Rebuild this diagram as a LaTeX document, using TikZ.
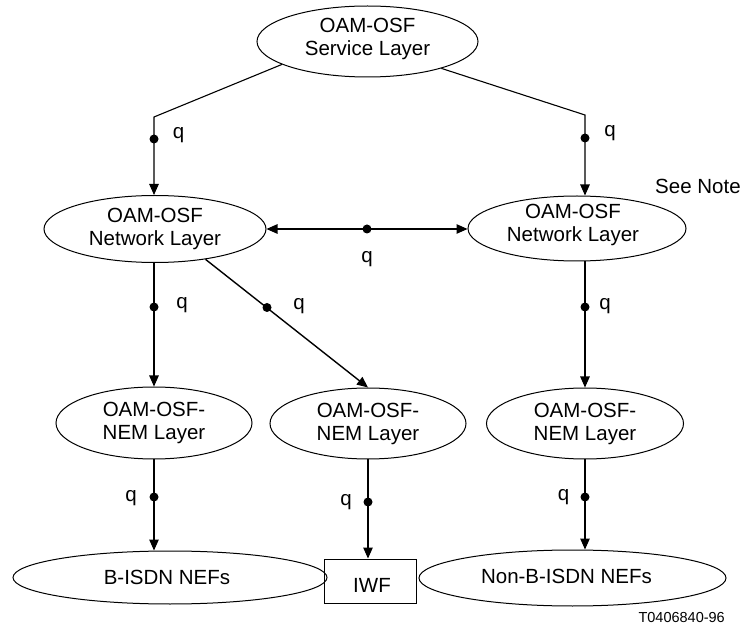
\documentclass[tikz,border=0pt]{standalone}
\usepackage{fontspec}
\setmainfont{Liberation Sans}
\usetikzlibrary{shapes.geometric,arrows.meta,calc}
\begin{document}
\begin{tikzpicture}[x=1pt,y=-1pt,
  font=\fontsize{20.5}{23}\selectfont,
  ell/.style={draw, ellipse, line width=1pt, inner sep=0pt},
  box/.style={draw, rectangle, line width=1pt, inner sep=0pt},
  lbl/.style={align=center, inner sep=0pt},
  conn/.style={line width=1.1pt, -{Triangle[length=11pt,width=9.5pt]}},
  dconn/.style={line width=1.1pt, {Triangle[length=11pt,width=9.5pt]}-{Triangle[length=11pt,width=9.5pt]}},
  qdot/.style={circle, fill, inner sep=0pt, minimum size=9pt},
  ql/.style={inner sep=0pt},
]
\useasboundingbox (0,0) rectangle (745,628);

% nodes
\node[ell, minimum width=221pt, minimum height=71pt,
      label={[lbl,yshift=3pt]center:OAM-OSF\\Service Layer}] (top) at (367.5,41.5) {};
\node[ell, minimum width=222pt, minimum height=67pt,
      label={[lbl]center:OAM-OSF\\Network Layer}] (netL) at (155,229) {};
\node[ell, minimum width=218pt, minimum height=65pt,
      label={[lbl,xshift=-4pt,yshift=4pt]center:OAM-OSF\\Network Layer}] (netR) at (577,228.5) {};
\node[ell, minimum width=196pt, minimum height=72pt,
      label={[lbl]center:OAM-OSF-\\NEM Layer}] (nemL) at (154,423) {};
\node[ell, minimum width=196pt, minimum height=71pt,
      label={[lbl]center:OAM-OSF-\\NEM Layer}] (nemM) at (368,423.5) {};
\node[ell, minimum width=197pt, minimum height=71pt,
      label={[lbl]center:OAM-OSF-\\NEM Layer}] (nemR) at (585,423.5) {};
\node[ell, minimum width=314pt, minimum height=53pt,
      label={[lbl,xshift=-3pt]center:B-ISDN NEFs}] (bisdn) at (170,577.5) {};
\node[box, minimum width=92pt, minimum height=44pt,
      label={[lbl,xshift=2pt,yshift=-4pt]center:IWF}] (iwf) at (370,581) {};
\node[ell, minimum width=307pt, minimum height=56pt,
      label={[lbl,xshift=-6pt,yshift=2pt]center:Non-B-ISDN NEFs}] (nonb) at (572.5,578) {};

\node[anchor=base west, inner sep=0pt] (note) at (655,194) {See Note};
\node[anchor=base east, inner sep=0pt, font=\fontsize{14.5}{17}\selectfont] (tag) at (725,622) {T0406840-96};

% bend points
\coordinate (cL) at (154,117);
\coordinate (cR) at (585,115);

% connectors
\draw[conn] (top.195) -- (cL) -- (cL |- netL.north);
\draw[conn] (top.340) -- (cR) -- (cR |- netR.north);
\draw[dconn] (netL.east) -- (netL.east -| netR.west);
\draw[conn] (netL.south -| nemL.north) -- (nemL.north);
\draw[conn, line width=1.4pt] (netL.329) -- (nemM.north);
\draw[conn] (netR.south -| nemR.north) -- (nemR.north);
\draw[conn] (nemL.south) -- (nemL.south |- bisdn.north);
\draw[conn] (nemM.south) -- (nemM.south |- iwf.north);
\draw[conn] (nemR.south) -- (nemR.south |- nonb.north);

% q reference points
\node[qdot] (d1) at (154,139) {};
\node[qdot] (d2) at (585,138) {};
\node[qdot] (d3) at (367,229) {};
\node[qdot] (d4) at (154,307) {};
\node[qdot] (d5) at (267,307.5) {};
\node[qdot] (d6) at (585,307) {};
\node[qdot] (d7) at (154,497) {};
\node[qdot] (d8) at (368,502) {};
\node[qdot] (d9) at (585,497) {};

% q labels
\node[ql] (q1) at (178.5,135) {q};
\node[ql] (q2) at (610,133) {q};
\node[ql] (q3) at (367,259) {q};
\node[ql] (q4) at (182,305.5) {q};
\node[ql] (q5) at (299,306) {q};
\node[ql] (q6) at (605,306) {q};
\node[ql] (q7) at (131,498) {q};
\node[ql] (q8) at (346,502) {q};
\node[ql] (q9) at (563.5,497) {q};
\end{tikzpicture}
\end{document}
